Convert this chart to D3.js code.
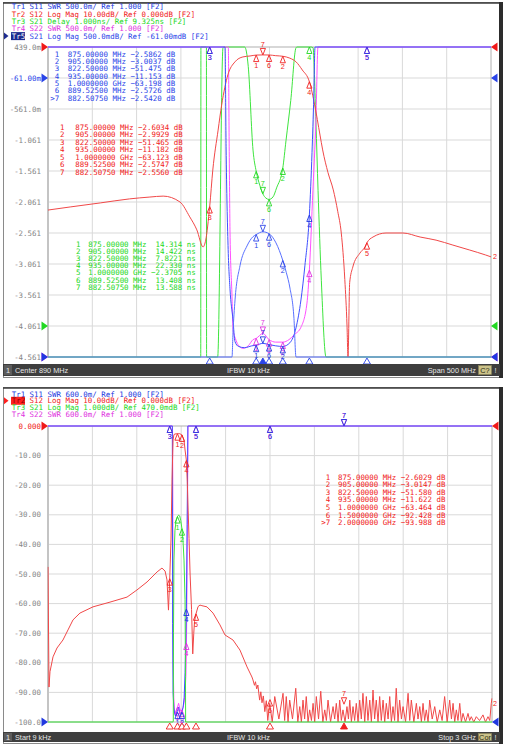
<!DOCTYPE html>
<html><head><meta charset="utf-8">
<script src="https://cdn.jsdelivr.net/npm/d3@7"></script>
<style>
body{margin:0;background:#fff;}
svg{display:block;}
text{white-space:pre;}
</style>
</head><body>
<svg id="c" width="506" height="744"></svg>
<script>
// ================= DATA =================
// ---- top window (Center 890 MHz, Span 500 MHz) ----
const topCenter = 890, topSpan = 500;
const topHeader = [
  ['Tr1', 'S11 SWR 500.0m/ Ref 1.000 [F2]'],
  ['Tr2', 'S12 Log Mag 10.00dB/ Ref 0.000dB [F2]'],
  ['Tr3', 'S21 Delay 1.000ns/ Ref 9.325ns [F2]'],
  ['Tr4', 'S22 SWR 500.0m/ Ref 1.000 [F2]'],
  ['Tr5', 'S21 Log Mag 500.0mdB/ Ref -61.00mdB [F2]']
];
const topYLabels = ['439.0m','-61.00m','-561.0m','-1.061','-1.561','-2.061','-2.561','-3.061','-3.561','-4.061','-4.561'];
// trace formats: [ref, perDiv, refDivFromBottom]
const topFmt = {tr1:[1,0.5,0], tr2:[0,10,10], tr3:[9.325,1,1], tr4:[1,0.5,0], tr5:[-0.061,0.5,9]};

// Tr2 S12 log mag (dB)
const tr2TopF  = [640,665,699,732,755,770,789,800,808,815,818,822.5,826,832,836,843,851,860,868,875,882.5075,889.525,897,905,913,920,927,935,941,947,950,956,962,967,971,975,977.5,978.6,980.5,984,992,997.7,1000,1006.8,1021.5,1040.6,1060,1078,1097,1116,1134,1140];
const tr2TopDb = [-52.6,-51.6,-50.3,-49.0,-48.4,-48.1,-50.0,-54.8,-59.0,-64.5,-62.3,-51.465,-39.7,-26.8,-18.7,-9.0,-4.8,-3.2,-2.9,-2.6034,-2.556,-2.5747,-2.8,-2.9929,-3.6,-4.8,-7.4,-11.182,-18.7,-28.4,-33.2,-40.5,-46.1,-53,-60,-75,-90,-100,-76,-71,-66.5,-64.5,-63.123,-61.3,-60,-60,-61.3,-62.3,-63.9,-65.5,-67.1,-67.7];
// Tr3 S21 group delay (ns)
const tr3TopF  = [640,812.4,812.6,818.8,819.0,830.5,831.5,837.5,838.5,860,862,866,871.4,875,879,882.5075,886,889.525,894,898,905,908.6,914,919.9,921,937,939.1,942.4,944.8,948.5,953.8,955,1140];
const tr3TopNs = [0,0,25,25,0,0,8.3,18.3,25,25,18.325,17.7,15.0,14.314,13.87,13.588,13.45,13.408,13.49,13.78,14.422,15.3,16.6,18.3,25,25,18.3,15.9,13.7,10.8,8.3,0,0];
// Tr5 S21 log mag (dB)
const tr5TopF  = [640,846.5,847.7,848.8,851.1,856.7,864.6,871.4,875,882.5075,889.525,897.3,905,909,913.1,917.6,919.9,921,1140];
const tr5TopDb = [-60,-60,-4.6,-4.17,-3.64,-3.09,-2.77,-2.62,-2.5862,-2.542,-2.5726,-2.72,-3.0037,-3.2,-3.45,-3.94,-4.6,-60,-60];
// Tr1 S11 SWR
const tr1TopF   = [640,839,839.8,841,843.2,845.4,848.8,851,855,862,870,875,882.5075,889.525,897,905,913,919.9,925.5,930,935,938,940,941.4,942.5,1140];
const tr1TopSwr = [20,20,6,4.4,2.8,2.1,1.6,1.25,1.17,1.15,1.18,1.19,1.22,1.2,1.18,1.17,1.23,1.47,1.92,2.48,3.29,4.3,5.2,6,20,20];
// Tr4 S22 SWR
const tr4TopF   = [640,842,843.5,844.5,845.4,847.7,848.8,851.5,854.4,860,866,871.4,875,882.5075,889.525,897,905,912,918,925.5,932.3,935,939,942.4,944.7,946,1140];
const tr4TopSwr = [20,20,6,4.4,3.05,1.97,1.44,1.3,1.2,1.14,1.18,1.28,1.3,1.38,1.28,1.24,1.24,1.28,1.36,1.48,1.87,2.4,3.69,4.82,6,20,20];

// markers (top)
const mkTopF    = [875,905,822.5,935,1000,889.525,882.5075];
const mkTopTr5  = [-2.5862,-3.0037,-51.475,-11.153,-63.198,-2.5726,-2.5420];
const mkTopTr2  = [-2.6034,-2.9929,-51.465,-11.182,-63.123,-2.5747,-2.5560];
const mkTopTr3  = [14.314,14.422,7.8221,22.330,-2.3705,13.408,13.588];
const mkTopTr1  = [1.19,1.17,40,3.29,40,1.2,1.22];
const mkTopTr4  = [1.3,1.24,40,2.4,40,1.28,1.38];

// ---- bottom window (Start 9 kHz, Stop 3 GHz) ----
const botStart = 0.009, botStop = 3000;
const botHeader = [
  ['Tr1', 'S11 SWR 600.0m/ Ref 1.000 [F2]'],
  ['Tr2', 'S12 Log Mag 10.00dB/ Ref 0.000dB [F2]'],
  ['Tr3', 'S21 Log Mag 1.000dB/ Ref 470.0mdB [F2]'],
  ['Tr4', 'S22 SWR 600.0m/ Ref 1.000 [F2]']
];
const botYLabels = ['0.000','-10.00','-20.00','-30.00','-40.00','-50.00','-60.00','-70.00','-80.00','-90.00','-100.0'];
const botFmt = {tr1:[1,0.6,0], tr2:[0,10,10], tr3:[0.47,1,10], tr4:[1,0.6,0]};

const tr2BotF  = [0.009,6.8,13.5,33.8,60.8,101,135,169,216,304,419,534,601,669,737,770,791,804,814,822.5,831,838,845,851,858,875,882.5,890,905,919,926,935,941,947,953,960,970,978,985,990,1000,1014,1027,1040,1074,1115,1162,1196,1250,1297,1345,1378];
const tr2BotDb = [-47.6,-88.2,-83,-78,-75,-72.3,-68.9,-65.5,-63.2,-61.1,-59.5,-57.8,-55.4,-52.7,-49.3,-48,-49,-52,-62.2,-51.58,-38.5,-18.2,-4.7,-2.9,-2.7,-2.6029,-2.56,-2.6,-3.0147,-4.8,-8.1,-11.622,-18.7,-28.4,-38,-50,-62,-77,-70,-66,-63.464,-61,-60.5,-60.7,-61.1,-63.2,-67.2,-70.6,-72.3,-75.7,-81.4,-84.8];
// stop-band noise floor of Tr2, read spike by spike: [MHz, dB]
const tr2BotNoise = [[1385,-85.8],[1395,-87.6],[1402,-86.4],[1410,-88.8],[1418,-87.5],[1425,-90.5],[1430,-92.6],[1438,-89.8],[1446,-93.5],[1455,-91.2],[1465,-96.5],[1475,-92.8],[1485,-99.5],
[1498,-93.7],[1515,-100],[1532,-91.4],[1560,-99],[1588,-90.3],[1599,-99.5],[1610,-91.4],[1622,-100],[1633,-92.6],[1652,-99],[1674,-88.6],[1688,-100],[1701,-94.8],[1712,-100],[1723,-92.6],[1734,-99],[1745,-91.4],[1757,-100],[1768,-95.9],[1780,-99.5],[1791,-93.7],[1802,-100],[1813,-91.4],[1828,-99],[1843,-89.6],[1857,-100],[1870,-95.9],[1881,-99.5],[1892,-92.6],[1909,-100],[1926,-94.8],[1937,-99],[1948,-93.7],[1960,-100],[1971,-92.6],[1982,-99.5],[1993,-95.9],[2007,-100],[2020,-94.8],[2030,-99],[2039,-92.6],[2050,-100],[2061,-94.8],[2072,-99.5],[2083,-93.7],[2095,-100],[2106,-92.6],[2117,-99],[2128,-90.3],[2140,-100],[2151,-91.4],[2162,-99.5],[2174,-92.6],[2185,-100],[2196,-89.2],[2207,-99],[2218,-92.6],[2230,-100],[2241,-91.4],[2252,-99.5],[2264,-92.6],[2275,-100],[2286,-93.7],[2298,-99],[2309,-91.4],[2320,-100],[2331,-94.8],[2342,-99.5],[2353,-88.6],[2365,-100],[2376,-92.6],[2388,-99],[2399,-94.8],[2416,-100],[2433,-90.3],[2444,-99.5],[2455,-92.6],[2472,-100],[2489,-93.7],[2500,-99],[2512,-94.8],[2523,-100],[2534,-93.7],[2545,-99.5],[2556,-95.9],[2568,-100],[2579,-92.6],[2596,-99],[2613,-94.8],[2630,-100],[2647,-95.9],[2663,-99.5],[2680,-91.4],[2697,-100],[2714,-92.6],[2726,-99],[2737,-93.7],[2748,-100],[2759,-95.9],[2770,-99.5],[2782,-93.7],[2793,-100],[2804,-97.1],[2821,-100],[2838,-97.1],[2849,-99.5],[2860,-98.2],[2877,-100],[2894,-98.2],[2916,-99.5],[2939,-97.6],[2956,-100],[2973,-98.2],[2985,-99.5],[2995,-93.7],[3000,-92]];
const tr3BotF  = [0.009,845,846.6,848,851,858,865,875,882.5,890,897,905,912,919,926,929,930,3000];
const tr3BotDb = [-30,-30,-9.5,-6.5,-4.06,-3.05,-2.75,-2.5862,-2.542,-2.57,-2.72,-3.0037,-3.38,-4.06,-5.4,-8,-30,-30];
const tr1BotF   = [0.009,838,840,842,845,850,855,862,870,875,882.5,890,897,905,913,920,926,932,935,940,945,950,3000];
const tr1BotSwr = [50,50,7,3,1.6,1.3,1.18,1.12,1.2,1.22,1.3,1.2,1.15,1.2,1.3,1.5,2,2.8,3.29,5,7.5,50,50];
const tr4BotF   = [0.009,841,843,846,850,855,862,870,875,882.5,890,897,905,913,920,926,932,935,939,944,946,3000];
const tr4BotSwr = [50,50,6,2.2,1.5,1.2,1.12,1.25,1.3,1.38,1.28,1.22,1.24,1.3,1.4,1.6,1.95,2.4,3.7,6,50,50];

const mkBotF   = [875,905,822.5,935,1000,1500,2000];
const mkBotTr2 = [-2.6029,-3.0147,-51.580,-11.622,-63.464,-92.428,-93.988];
const mkBotTr3 = [-2.59,-3.0,-60,-11.2,-60,-60,-60];
const mkBotTr1 = [1.2,1.2,40,3.29,40,40,40];
const mkBotTr4 = [1.3,1.24,40,2.6,40,40,40];

const topStatus = ['Center 890 MHz','IFBW 10 kHz','Span 500 MHz','C?'];
const botStatus = ['Start 9 kHz','IFBW 10 kHz','Stop 3 GHz','Cor'];

// ================= DRAWING =================
const MONO = "'DejaVu Sans Mono','Liberation Mono',monospace";
const SANS = "'Liberation Sans','DejaVu Sans',sans-serif";
const TXT  = {tr1:'#2038e0', tr2:'#f02020', tr3:'#22d822', tr4:'#e030e0', tr5:'#2a44e8'};
const LINE = {tr1:'#3f50ff', tr2:'#f04848', tr3:'#3ee43e', tr4:'#ff50ff', tr5:'#5870ff'};
const svg = d3.select('#c');
const fmt5 = d3.format('.5r');
const fmtF = f => f < 1000 ? d3.format('.8r')(f) + ' MHz' : (f/1000).toFixed(7) + ' GHz';

const P1 = {x0:48, x1:491, y0:47, y1:357};
const P2 = {x0:48, x1:492, y0:426, y1:722};

function yScale(fm, P){
  const [ref, per, rd] = fm;
  return d3.scaleLinear().domain([ref - rd*per, ref + (10-rd)*per]).range([P.y1, P.y0]).clamp(true);
}

function frame(y0, y1){
  svg.append('rect').attr('x',3.5).attr('y',y0+0.5).attr('width',496).attr('height',y1-y0-1)
    .attr('fill','#fff').attr('stroke','#8a8a8a');
  svg.append('line').attr('x1',3).attr('x2',500).attr('y1',y0+1).attr('y2',y0+1).attr('stroke','#3a3a3a').attr('stroke-width',1.6);
  svg.append('rect').attr('x',499).attr('y',y0).attr('width',4).attr('height',y1-y0).attr('fill','#2c2c2c');
}

function grid(P, labels, labelColors){
  const g = svg.append('g');
  const xs = d3.scaleLinear().domain([0,10]).range([P.x0,P.x1]);
  const ys = d3.scaleLinear().domain([0,10]).range([P.y0,P.y1]);
  d3.range(1,10).forEach(i=>{
    g.append('line').attr('x1',xs(i)).attr('x2',xs(i)).attr('y1',P.y0).attr('y2',P.y1).attr('stroke','#d9d9d9');
    g.append('line').attr('x1',P.x0).attr('x2',P.x1).attr('y1',ys(i)).attr('y2',ys(i)).attr('stroke','#d9d9d9');
  });
  g.append('rect').attr('x',P.x0).attr('y',P.y0).attr('width',P.x1-P.x0).attr('height',P.y1-P.y0)
    .attr('fill','none').attr('stroke','#b0b0b0');
  g.append('line').attr('x1',P.x0).attr('x2',P.x0).attr('y1',P.y0).attr('y2',P.y1).attr('stroke','#c4c4c4').attr('stroke-width',2);
  labels.forEach((t,i)=>{
    g.append('text').attr('x',41).attr('y',ys(i)).attr('dy','0.35em').attr('text-anchor','end')
      .attr('font-family',MONO).attr('font-size',7.45).attr('fill',labelColors[i]||'#858585').text(t);
  });
}

function header(rows, y0, dy, colors, activeIdx, activeBg, activeFg){
  rows.forEach((r,i)=>{
    const y = y0 + i*dy;
    const c = colors[i];
    if (i===activeIdx){
      svg.append('rect').attr('x',11).attr('y',y-4).attr('width',14).attr('height',8).attr('fill',activeBg);
      svg.append('path').attr('d',`M${4},${y-3.5} L${8.5},${y} L${4},${y+3.5} Z`).attr('fill',activeBg);
    }
    svg.append('text').attr('x',11.7).attr('y',y).attr('dy','0.35em').attr('font-family',MONO).attr('font-size',7.45)
      .attr('fill', i===activeIdx ? activeFg : c).text(r[0]);
    svg.append('text').attr('x',11.7+4*4.48).attr('y',y).attr('dy','0.35em').attr('font-family',MONO).attr('font-size',7.45)
      .attr('fill',c).text(r[1]);
  });
}

function clipFor(id, P){
  svg.append('clipPath').attr('id',id).append('rect').attr('x',P.x0-0.5).attr('y',P.y0-1).attr('width',P.x1-P.x0+1).attr('height',P.y1-P.y0+2);
  return svg.append('g').attr('clip-path',`url(#${id})`);
}

function trace(g, xs, ys, F, V, color, curve){
  const ln = d3.line().x((d,i)=>xs(F[i])).y((d,i)=>ys(V[i])).curve(curve||d3.curveMonotoneX);
  g.append('path').attr('d', ln(F)).attr('fill','none').attr('stroke',color).attr('stroke-width',1);
}

function markers(xs, ys, F, V, color, activeIdx){
  const dom = ys.domain(), lo = Math.min(...dom);
  const g = svg.append('g');
  F.forEach((f,i)=>{
    if (V[i] < lo) return;
    const x = xs(f), y = ys(V[i]);
    if (i===activeIdx){
      g.append('path').attr('d',`M${x},${y} L${x-2.6},${y-6.5} L${x+2.6},${y-6.5} Z`).attr('fill','none').attr('stroke',color).attr('stroke-width',0.9);
      g.append('text').attr('x',x).attr('y',y-8).attr('text-anchor','middle').attr('font-family',SANS).attr('font-size',7.2).attr('fill',color).text(String(i+1));
    } else {
      g.append('path').attr('d',`M${x},${y} L${x-2.6},${y+6.5} L${x+2.6},${y+6.5} Z`).attr('fill','none').attr('stroke',color).attr('stroke-width',0.9);
      g.append('text').attr('x',x).attr('y',y+13).attr('text-anchor','middle').attr('font-family',SANS).attr('font-size',7.2).attr('fill',color).text(String(i+1));
    }
  });
}

function stimTriangles(xs, P, F, color, activeIdx){
  F.forEach((f,i)=>{
    const x = xs(f), y = P.y1 + 1;
    svg.append('path').attr('d',`M${x},${y} L${x-3.5},${y+6} L${x+3.5},${y+6} Z`)
      .attr('fill', i===activeIdx ? color : '#fff').attr('stroke',color).attr('stroke-width',0.9);
  });
}

function readout(numRight, restX, y0, dy, F, V, unit, color, activePrefix){
  F.forEach((f,i)=>{
    const y = y0 + i*dy;
    const num = (activePrefix && i===F.length-1 ? '>' : '') + (i+1);
    svg.append('text').attr('x',numRight).attr('y',y).attr('dy','0.35em').attr('text-anchor','end')
      .attr('font-family',MONO).attr('font-size',7.45).attr('fill',color).text(num);
    svg.append('text').attr('x',restX).attr('y',y).attr('dy','0.35em')
      .attr('font-family',MONO).attr('font-size',7.45).attr('fill',color)
      .text(fmtF(f) + ' ' + fmt5(V[i]).padStart(7) + ' ' + unit);
  });
}

function refTriangles(P, ys, value, color){
  const y = ys(value);
  svg.append('path').attr('d',`M${P.x0-6.5},${y-4.5} L${P.x0},${y} L${P.x0-6.5},${y+4.5} Z`).attr('fill',color);
  svg.append('path').attr('d',`M${P.x1+6.5},${y-4.5} L${P.x1},${y} L${P.x1+6.5},${y+4.5} Z`).attr('fill',color);
}

function statusBar(y, h, items, boxFill){
  svg.append('rect').attr('x',3).attr('y',y).attr('width',497).attr('height',h).attr('fill','#3e3e3e');
  svg.append('rect').attr('x',4).attr('y',y+1).attr('width',8).attr('height',h-2).attr('fill','#5c5c5c');
  const ty = y + h/2;
  const t = (x,s,c,anchor)=>svg.append('text').attr('x',x).attr('y',ty).attr('dy','0.35em').attr('text-anchor',anchor||'start')
      .attr('font-family',SANS).attr('font-size',7.3).attr('fill',c).text(s);
  t(6,'1','#e6e6e6');
  t(15,items[0],'#e6e6e6');
  t(227,items[1],'#e6e6e6');
  t(476,items[2],'#e6e6e6','end');
  svg.append('rect').attr('x',478.5).attr('y',y+1.5).attr('width',13).attr('height',h-3).attr('fill',boxFill).attr('stroke','#8a8458').attr('stroke-width',0.6);
  t(485,items[3],'#2a2a10','middle');
  t(495.5,'!','#e6e6e6','middle');
}

// ---------- TOP WINDOW ----------
frame(2, 378);
const xTop = d3.scaleLinear().domain([topCenter-topSpan/2, topCenter+topSpan/2]).range([P1.x0,P1.x1]);
const yT = {}; Object.keys(topFmt).forEach(k=> yT[k] = yScale(topFmt[k], P1));
grid(P1, topYLabels, {1:TXT.tr5});
header(topHeader, 6.7, 7.35, [TXT.tr1,TXT.tr2,TXT.tr3,TXT.tr4,TXT.tr5], 4, '#1e2c90', '#ffffff');

readout(59.3, 67.7, 54.3, 7.28, mkTopF, mkTopTr5, 'dB', TXT.tr5, true);
readout(64.5, 75.3, 127.3, 7.5, mkTopF, mkTopTr2, 'dB', TXT.tr2, false);
readout(80.5, 88.3, 244, 7.2, mkTopF, mkTopTr3, 'ns', TXT.tr3, false);

const gT = clipFor('clipTop', P1);
trace(gT, xTop, yT.tr3, tr3TopF, tr3TopNs, LINE.tr3);
trace(gT, xTop, yT.tr4, tr4TopF, tr4TopSwr, LINE.tr4);
trace(gT, xTop, yT.tr2, tr2TopF, tr2TopDb, LINE.tr2);
trace(gT, xTop, yT.tr1, tr1TopF, tr1TopSwr, LINE.tr1);
trace(gT, xTop, yT.tr5, tr5TopF, tr5TopDb, LINE.tr5);

markers(xTop, yT.tr3, mkTopF, mkTopTr3, TXT.tr3, 6);
markers(xTop, yT.tr4, mkTopF, mkTopTr4, TXT.tr4, 6);
markers(xTop, yT.tr2, mkTopF, mkTopTr2, TXT.tr2, 6);
markers(xTop, yT.tr1, mkTopF, mkTopTr1, TXT.tr1, 6);
markers(xTop, yT.tr5, mkTopF, mkTopTr5, TXT.tr5, 6);
stimTriangles(xTop, P1, mkTopF, TXT.tr5, 6);

refTriangles(P1, yT.tr3, topFmt.tr3[0], '#22d822');
refTriangles(P1, yT.tr4, topFmt.tr4[0], '#e030e0');
refTriangles(P1, yT.tr1, topFmt.tr1[0], '#2038e0');
refTriangles(P1, yT.tr5, topFmt.tr5[0], '#2a44e8');
refTriangles(P1, yT.tr2, topFmt.tr2[0], '#f01818');
// trace end label
svg.append('text').attr('x',P1.x1+2).attr('y',yT.tr2(tr2TopDb[tr2TopDb.length-1])).attr('dy','0.35em')
  .attr('font-family',SANS).attr('font-size',7.2).attr('fill',TXT.tr2).text('2');
statusBar(364, 12, topStatus, '#cbc28a');

// ---------- BOTTOM WINDOW ----------
frame(387, 744);
const xBot = d3.scaleLinear().domain([botStart, botStop]).range([P2.x0,P2.x1]);
const yB = {}; Object.keys(botFmt).forEach(k=> yB[k] = yScale(botFmt[k], P2));
grid(P2, botYLabels, {0:TXT.tr2});
header(botHeader, 394, 6.8, [TXT.tr1,TXT.tr2,TXT.tr3,TXT.tr4], 1, '#ff2020', '#8a0000');

readout(330.2, 338, 477, 7.6, mkBotF, mkBotTr2, 'dB', TXT.tr2, true);

const gB = clipFor('clipBot', P2);
trace(gB, xBot, yB.tr4, tr4BotF, tr4BotSwr, LINE.tr4, d3.curveLinear);
trace(gB, xBot, yB.tr1, tr1BotF, tr1BotSwr, LINE.tr1, d3.curveLinear);
trace(gB, xBot, yB.tr2, tr2BotF.concat(tr2BotNoise.map(d=>d[0])), tr2BotDb.concat(tr2BotNoise.map(d=>d[1])), LINE.tr2, d3.curveLinear);
trace(gB, xBot, yB.tr3, tr3BotF, tr3BotDb, LINE.tr3, d3.curveLinear);

markers(xBot, yB.tr4, mkBotF, mkBotTr4, TXT.tr4, 6);
markers(xBot, yB.tr1, mkBotF, mkBotTr1, TXT.tr1, 6);
markers(xBot, yB.tr3, mkBotF, mkBotTr3, TXT.tr3, 6);
markers(xBot, yB.tr2, mkBotF, mkBotTr2, TXT.tr2, 6);
stimTriangles(xBot, P2, mkBotF, TXT.tr2, 6);

refTriangles(P2, yB.tr1, botFmt.tr1[0], '#2038e0');
refTriangles(P2, yB.tr2, botFmt.tr2[0], '#f01818');
svg.append('text').attr('x',P2.x1+1).attr('y',yB.tr2(-93.7)).attr('dy','0.35em')
  .attr('font-family',SANS).attr('font-size',7.2).attr('fill',TXT.tr2).text('2');
statusBar(732, 10, botStatus, '#cbc28a');
</script>
</body></html>
